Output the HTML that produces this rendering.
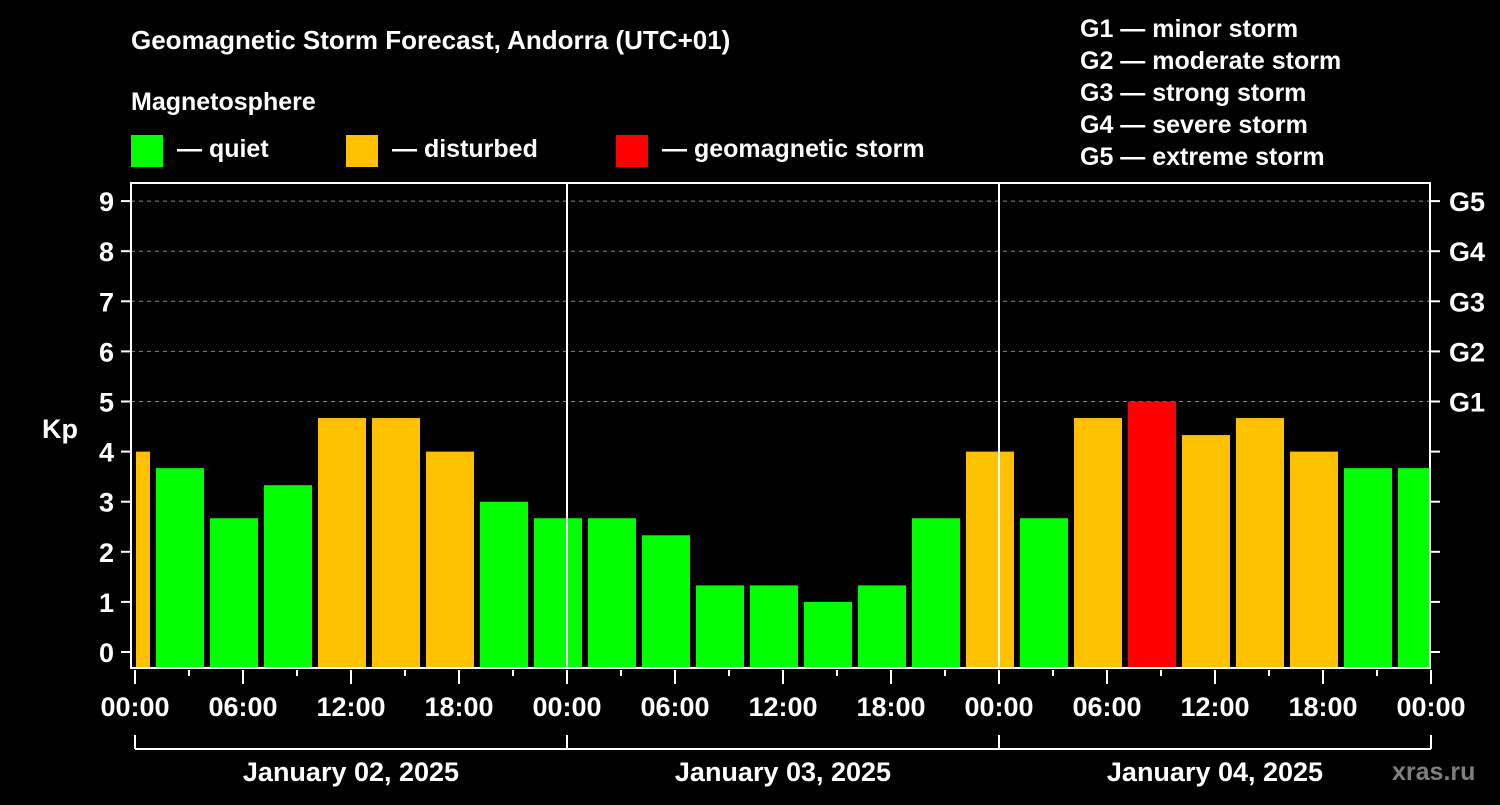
<!DOCTYPE html>
<html><head><meta charset="utf-8"><style>
html,body{margin:0;padding:0;background:#000;}
svg text{font-family:"Liberation Sans",Arial,sans-serif;font-weight:bold;fill:#fff;}
</style></head><body>
<svg id="chart" width="1500" height="800" xmlns="http://www.w3.org/2000/svg">
<rect width="1500" height="800" fill="#000"/>
<text x="131" y="49" font-size="26">Geomagnetic Storm Forecast, Andorra (UTC+01)</text>
<text x="131" y="110" font-size="25">Magnetosphere</text>
<g><rect x="131" y="135" width="32" height="32" fill="#00ff00"/><text x="177" y="157" font-size="25">— quiet</text></g>
<g><rect x="346" y="135" width="32" height="32" fill="#ffc000"/><text x="392" y="157" font-size="25">— disturbed</text></g>
<g><rect x="616" y="135" width="32" height="32" fill="#ff0000"/><text x="662" y="157" font-size="25">— geomagnetic storm</text></g>
<g font-size="25">
<text x="1080" y="37">G1 — minor storm</text>
<text x="1080" y="69">G2 — moderate storm</text>
<text x="1080" y="101">G3 — strong storm</text>
<text x="1080" y="133">G4 — severe storm</text>
<text x="1080" y="165">G5 — extreme storm</text>
</g>
<text x="42" y="438" font-size="27">Kp</text>
<text x="1392" y="780" font-size="25" style="fill:#7f7f7f">xras.ru</text>
<g id="grid"></g><g id="bars"></g><g id="axes"></g>
</svg>
<script>
const startValue = [4];
const jan02 = [3.67,2.67,3.33,4.67,4.67,4,3,2.67];
const jan03 = [2.67,2.33,1.33,1.33,1,1.33,2.67,4];
const jan04 = [2.67,4.67,5,4.33,4.67,4,3.67,3.67];
const dayLabels = ["January 02, 2025","January 03, 2025","January 04, 2025"];
const yTicks = [0,1,2,3,4,5,6,7,8,9];
const gLabels = ["G1","G2","G3","G4","G5"];
const xTickLabels = ["00:00","06:00","12:00","18:00"];

const NS="http://www.w3.org/2000/svg";
const X0=135, PXH=18, LEFT=131, RIGHT=1430, TOP=183, BOTTOM=668;
const xs=h=>X0+h*PXH;
const ys=k=>652-k*50.1;
function el(t,a,p){const e=document.createElementNS(NS,t);for(const k in a)e.setAttribute(k,a[k]);document.getElementById(p).appendChild(e);return e;}
// grid
[5,6,7,8,9].forEach(k=>{const l=el('line',{x1:LEFT,x2:RIGHT,y1:ys(k),y2:ys(k),stroke:'#888','stroke-dasharray':'4,4','stroke-width':1},'grid');

});
// bars
function color(v){return v>=5?'#ff0000':(v>=4?'#ffc000':'#00ff00');}
const all=[...startValue,...jan02,...jan03,...jan04];
all.forEach((v,i)=>{
 let a=xs(-2+3*i)+3, b=xs(1+3*i)-3;
 a=Math.max(a,X0+1); b=Math.min(b,RIGHT);
 const r=el('rect',{x:a,y:ys(v),width:b-a,height:BOTTOM-ys(v),fill:color(v)},'bars');
 
 
});
// axes
const ax='axes';
el('rect',{x:LEFT,y:TOP,width:RIGHT-LEFT,height:BOTTOM-TOP,fill:'none',stroke:'#fff','stroke-width':2},ax);
[1,2].forEach(d=>{const l=el('line',{x1:xs(24*d),x2:xs(24*d),y1:TOP,y2:BOTTOM,stroke:'#fff','stroke-width':2},ax);

});
yTicks.forEach(k=>{
 el('line',{x1:121,x2:LEFT,y1:ys(k),y2:ys(k),stroke:'#fff','stroke-width':2},ax);
 el('line',{x1:RIGHT,x2:RIGHT+10,y1:ys(k),y2:ys(k),stroke:'#fff','stroke-width':2},ax);
 const t=el('text',{x:114,y:ys(k)+10,'font-size':27,'text-anchor':'end'},ax);t.textContent=k;
 
 
});
gLabels.forEach((g,i)=>{const t=el('text',{x:1449,y:ys(5+i)+10,'font-size':27},ax);t.textContent=g;
 
 });
for(let h=0;h<=72;h+=3){
 const major=h%6==0;
 el('line',{x1:xs(h),x2:xs(h),y1:BOTTOM+2,y2:BOTTOM+(major?16:8),stroke:'#fff','stroke-width':2},ax);
 if(major){const t=el('text',{x:xs(h),y:716,'font-size':27,'text-anchor':'middle'},ax);t.textContent=xTickLabels[(h/6)%4];
 
 }
}
el('line',{x1:xs(0),x2:xs(72),y1:749,y2:749,stroke:'#fff','stroke-width':2},ax);
[0,24,48,72].forEach(h=>el('line',{x1:xs(h),x2:xs(h),y1:735,y2:749,stroke:'#fff','stroke-width':2},ax));
dayLabels.forEach((d,i)=>{const t=el('text',{x:xs(24*i+12),y:781,'font-size':27,'text-anchor':'middle'},ax);t.textContent=d;
 
 });
</script>
</body></html>
